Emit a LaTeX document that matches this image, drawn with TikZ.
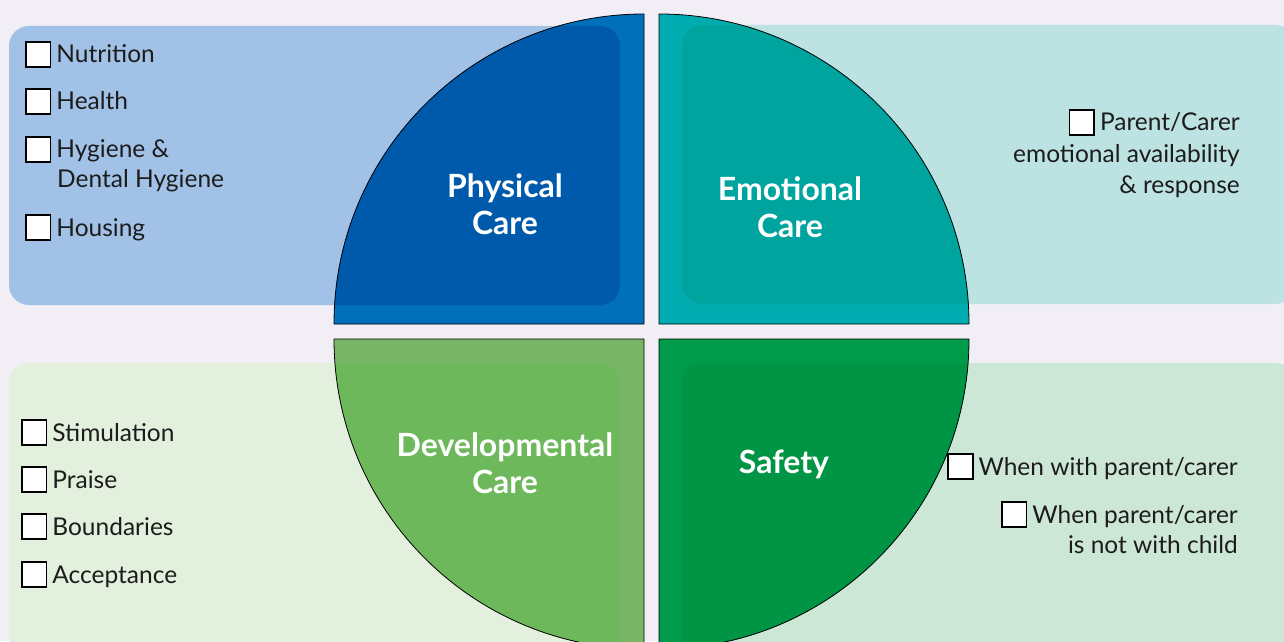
\documentclass[tikz,border=0pt]{standalone}
\usepackage{fontspec}
\setmainfont{Lato}
\definecolor{bgcol}{HTML}{F2EEF6}
\definecolor{txtcol}{HTML}{1C1C1C}
\definecolor{physpanel}{HTML}{A1C1E6}
\definecolor{physpie}{HTML}{0070BB}
\definecolor{physdark}{HTML}{005AAB}
\definecolor{emopanel}{HTML}{BCE2E1}
\definecolor{emopie}{HTML}{00ACB0}
\definecolor{emodark}{HTML}{00A49F}
\definecolor{devpanel}{HTML}{E3F0DD}
\definecolor{devpie}{HTML}{78B567}
\definecolor{devdark}{HTML}{6DB85B}
\definecolor{safepanel}{HTML}{CDE7D6}
\definecolor{safepie}{HTML}{009A4B}
\definecolor{safedark}{HTML}{009445}
% tick box in front of an item
\newcommand\chk{\raisebox{-3pt}{\setlength\fboxsep{0pt}\setlength\fboxrule{1.6pt}\fcolorbox{black}{white}{\rule{0pt}{23pt}\rule{23pt}{0pt}}}\hspace{5pt}}
\begin{document}
\begin{tikzpicture}[x=1pt,y=1pt,
  panel/.style={rounded corners=20pt},
  quarter/.style={draw=black,line width=0.8pt},
  item/.style={inner sep=0pt,text=txtcol,font=\fontsize{24.5}{30}\selectfont},
  title/.style={align=center,text=white,font=\fontsize{32}{37}\selectfont\bfseries}]
\useasboundingbox (0,0) rectangle (1284,641);
\fill[bgcol] (0,0) rectangle (1284,641);
\clip (0,0) rectangle (1284,641);
% panels
\fill[physpanel,panel] (9,336) rectangle (620,615);
\fill[emopanel,panel] (682,337) rectangle (1295,616);
\fill[devpanel,panel] (9,-14) rectangle (620,278);
\fill[safepanel,panel] (682,-14) rectangle (1295,278);
% quarters of the circle, darker where a panel lies below
\foreach \cx/\cy/\sa/\pie/\dark/\ax/\ay/\bx/\by in {644/317/90/physpie/physdark/9/336/620/615,
    659/317/0/emopie/emodark/682/337/1295/616,
    644/302/180/devpie/devdark/9/-14/620/278,
    659/302/270/safepie/safedark/682/-14/1295/278}{
  \fill[\pie] (\cx,\cy) -- ++(\sa:310) arc[start angle=\sa,delta angle=90,radius=310] -- cycle;
  \begin{scope}
    \clip (\cx,\cy) -- ++(\sa:310) arc[start angle=\sa,delta angle=90,radius=310] -- cycle;
    \fill[\dark,panel] (\ax,\ay) rectangle (\bx,\by);
  \end{scope}
  \draw[quarter] (\cx,\cy) -- ++(\sa:310) arc[start angle=\sa,delta angle=90,radius=310] -- cycle;
}
% titles
\node[title] (nphys) at (505,437) {Physical\\Care};
\node[title] (nemo) at (790,434) {Emotional\\Care};
\node[title] (ndev) at (505,178) {Developmental\\Care};
\node[title] (nsafe) at (784,177) {Safety};
% physical care items
\node[item,anchor=base west] (nutr) at (25,578) {\chk Nutrition};
\node[item,anchor=base west] (hlth) at (25,531) {\chk Health};
\node[item,anchor=base west] (hyg) at (25,483) {\chk Hygiene \&};
\node[item,anchor=base west] (dent) at (57,453) {Dental Hygiene};
\node[item,anchor=base west] (hous) at (25,405) {\chk Housing};
% emotional care items
\node[item,anchor=base east] (par) at (1240,510) {\chk Parent/Carer};
\node[item,anchor=base east] (avail) at (1240,478) {emotional availability};
\node[item,anchor=base east] (resp) at (1240,447) {\& response};
% developmental care items
\node[item,anchor=base west] (stim) at (21,200) {\chk Stimulation};
\node[item,anchor=base west] (prai) at (21,153) {\chk Praise};
\node[item,anchor=base west] (bound) at (21,106) {\chk Boundaries};
\node[item,anchor=base west] (acc) at (21,58) {\chk Acceptance};
% safety items
\node[item,anchor=base east] (with) at (1238,166) {\chk When with parent/carer};
\node[item,anchor=base east] (away) at (1238,118) {\chk When parent/carer};
\node[item,anchor=base east] (child) at (1238,88) {is not with child};
\end{tikzpicture}
\end{document}
